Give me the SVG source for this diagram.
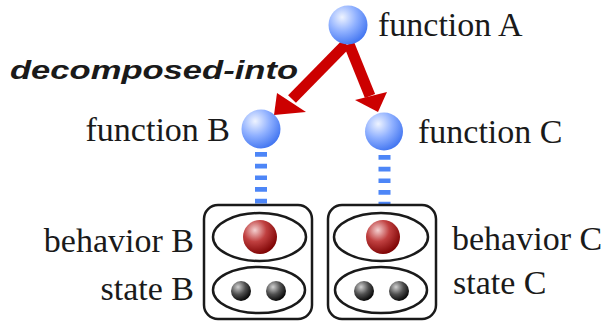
<svg xmlns="http://www.w3.org/2000/svg" width="606" height="324" viewBox="0 0 606 324">
<defs>
<radialGradient id="gBlue" cx="0.35" cy="0.3" r="0.75">
<stop offset="0" stop-color="#eef3ff"/>
<stop offset="0.5" stop-color="#8fb0ff"/>
<stop offset="1" stop-color="#3f73f0"/>
</radialGradient>
<radialGradient id="gRed" cx="0.35" cy="0.3" r="0.75">
<stop offset="0" stop-color="#f4d0d0"/>
<stop offset="0.45" stop-color="#c04040"/>
<stop offset="1" stop-color="#7a0000"/>
</radialGradient>
<radialGradient id="gBlack" cx="0.35" cy="0.3" r="0.75">
<stop offset="0" stop-color="#d0d0d0"/>
<stop offset="0.5" stop-color="#505050"/>
<stop offset="1" stop-color="#000"/>
</radialGradient>
</defs>
<style>
.lbl{font-family:"Liberation Serif","Times New Roman",serif;font-size:34px;fill:#1a1a1a}
.box{fill:none;stroke:#1a1a1a;stroke-width:2.5}
.dash{stroke:#4d86f7;stroke-width:12;stroke-dasharray:4.7 7}
.shaft{stroke:#cc0000;stroke-width:11;fill:none}
.head{fill:#cc0000}
</style>
<g id="connectors">
<line class="shaft" x1="346" y1="44" x2="292" y2="99"/>
<polygon class="head" points="277,93 274,115 306,112"/>
<line class="shaft" x1="349" y1="44" x2="370" y2="96"/>
<polygon class="head" points="355,100 387,92 378,112"/>
<line class="dash" x1="261" y1="152" x2="261" y2="205"/>
<line class="dash" x1="384.5" y1="155" x2="384.5" y2="205"/>
</g>
<text id="label-decomposed" x="10" y="79" font-family="'Liberation Sans',Arial,sans-serif" font-weight="bold" font-style="italic" font-size="26" fill="#1a1a1a" textLength="288" lengthAdjust="spacingAndGlyphs">decomposed-into</text>
<g id="functionA">
<circle cx="348" cy="25" r="19.5" fill="url(#gBlue)"/>
<text class="lbl" x="378" y="36">function A</text>
</g>
<g id="functionB">
<circle cx="261" cy="129" r="19.5" fill="url(#gBlue)"/>
<text class="lbl" x="230" y="141" text-anchor="end">function B</text>
</g>
<g id="functionC">
<circle cx="384" cy="131.5" r="19" fill="url(#gBlue)"/>
<text class="lbl" x="418" y="143">function C</text>
</g>
<g id="objectB">
<rect class="box" x="204" y="205" width="108" height="114" rx="14"/>
<ellipse class="box" cx="259.5" cy="237" rx="46.5" ry="24"/>
<ellipse class="box" cx="259" cy="290" rx="46" ry="23"/>
<circle cx="260" cy="237" r="17" fill="url(#gRed)"/>
<circle cx="241" cy="291" r="10" fill="url(#gBlack)"/>
<circle cx="276" cy="291" r="10" fill="url(#gBlack)"/>
<text class="lbl" x="194" y="252" text-anchor="end">behavior B</text>
<text class="lbl" x="194" y="300" text-anchor="end">state B</text>
</g>
<g id="objectC">
<rect class="box" x="328" y="205" width="108" height="114" rx="14"/>
<ellipse class="box" cx="381" cy="237" rx="47" ry="24"/>
<ellipse class="box" cx="381" cy="290" rx="46" ry="23"/>
<circle cx="383" cy="237" r="17" fill="url(#gRed)"/>
<circle cx="364" cy="291" r="10" fill="url(#gBlack)"/>
<circle cx="399" cy="291" r="10" fill="url(#gBlack)"/>
<text class="lbl" x="452" y="250">behavior C</text>
<text class="lbl" x="453" y="294">state C</text>
</g>
</svg>
